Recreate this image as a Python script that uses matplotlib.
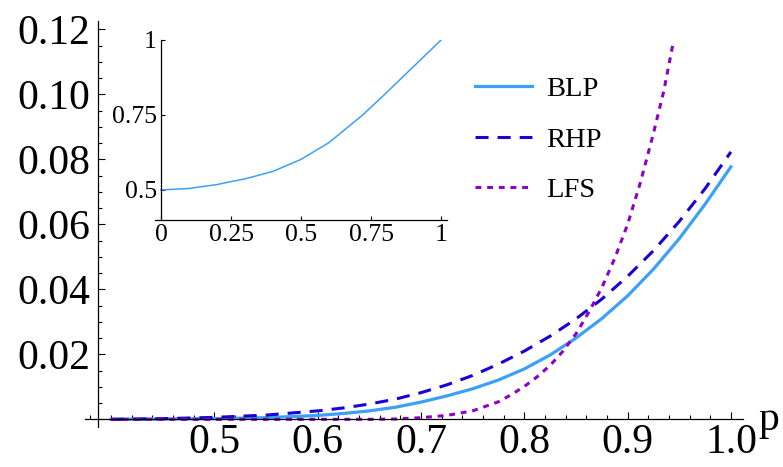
"""Tail probability curves for BLP, RHP and LFS, with an inset."""

import matplotlib
matplotlib.use("Agg")
import matplotlib.pyplot as plt
from matplotlib.ticker import FixedLocator, MultipleLocator, FormatStrFormatter

plt.rcParams["font.family"] = ["Liberation Serif", "DejaVu Serif"]
plt.rcParams["lines.scale_dashes"] = False

# Main curves
blp_p = [0.40, 0.45, 0.50, 0.55, 0.60, 0.625, 0.65, 0.675, 0.70, 0.725, 0.75,
         0.775, 0.80, 0.825, 0.85, 0.875, 0.90, 0.925, 0.95, 0.975, 1.0]
blp_val = [0.0, 0.0001, 0.0002, 0.0005, 0.0012, 0.0018, 0.0026, 0.0037, 0.0053,
           0.0072, 0.0094, 0.0121, 0.0155, 0.0198, 0.0250, 0.0310, 0.0380,
           0.0462, 0.0556, 0.0662, 0.0777]

rhp_p = [0.40, 0.45, 0.50, 0.55, 0.60, 0.625, 0.65, 0.675, 0.70, 0.725, 0.75,
         0.775, 0.80, 0.825, 0.85, 0.875, 0.90, 0.925, 0.95, 0.975, 1.0]
rhp_val = [0.0, 0.0002, 0.0006, 0.0013, 0.0026, 0.0035, 0.0047, 0.0062, 0.0082,
           0.0106, 0.0135, 0.0170, 0.0210, 0.0256, 0.0309, 0.0370, 0.0440,
           0.0519, 0.0609, 0.0710, 0.0823]

lfs_p = [0.40, 0.50, 0.60, 0.65, 0.675, 0.70, 0.725, 0.75, 0.775, 0.7875,
         0.80, 0.8125, 0.825, 0.8375, 0.85, 0.8625, 0.875, 0.8875, 0.90,
         0.9125, 0.925, 0.935, 0.944]
lfs_val = [0.0, 0.0, 0.0, 0.0, 0.0001, 0.0005, 0.0012, 0.0026, 0.0054, 0.0076,
           0.0101, 0.0131, 0.0166, 0.0210, 0.0263, 0.0330, 0.0405, 0.0495,
           0.0600, 0.0730, 0.0880, 0.1010, 0.1157]

# Inset curve
inset_x = [0.0, 0.1, 0.2, 0.25, 0.3, 0.4, 0.5, 0.6, 0.72, 0.8, 0.9, 1.0]
inset_y = [0.5, 0.505, 0.518, 0.528, 0.537, 0.562, 0.602, 0.658, 0.75, 0.82,
           0.91, 1.0]

x_ticks = [0.5, 0.6, 0.7, 0.8, 0.9, 1.0]
y_ticks = [0.02, 0.04, 0.06, 0.08, 0.10, 0.12]
inset_xticks = [0, 0.25, 0.5, 0.75, 1]
inset_xlabels = ["0", "0.25", "0.5", "0.75", "1"]
inset_yticks = [0.5, 0.75, 1]
inset_ylabels = ["0.5", "0.75", "1"]

BLP_COLOR = "#3ca0f7"
RHP_COLOR = "#1a00d8"
LFS_COLOR = "#8c00c8"


def mathematica_axes(ax, x_cross, y_cross):
    """Axes crossing at a point, ticks pointing inward, no frame."""
    for side in ("top", "right"):
        ax.spines[side].set_visible(False)
    ax.spines["left"].set_position(("data", x_cross))
    ax.spines["bottom"].set_position(("data", y_cross))
    ax.patch.set_alpha(0)


def main():
    fig = plt.figure(figsize=(7.83, 4.67), dpi=100)
    ax = fig.add_axes([0.1089, 0.0861, 0.840, 0.869])
    ax.set_xlim(0.375, 1.0117)
    ax.set_ylim(-0.0023, 0.1226)
    mathematica_axes(ax, 0.3877, 0.0)

    ax.plot(blp_p, blp_val, color=BLP_COLOR, lw=2.3, label="BLP")
    ax.plot(rhp_p, rhp_val, color=RHP_COLOR, lw=2.2, dashes=(9.4, 6.5),
            dash_capstyle="butt", label="RHP")
    ax.plot(lfs_p, lfs_val, color=LFS_COLOR, lw=2.2, dashes=(4.2, 4.2),
            dash_capstyle="butt", label="LFS")

    ax.xaxis.set_major_locator(FixedLocator(x_ticks))
    ax.xaxis.set_minor_locator(MultipleLocator(0.02))
    ax.xaxis.set_major_formatter(FormatStrFormatter("%.1f"))
    ax.yaxis.set_major_locator(FixedLocator(y_ticks))
    ax.yaxis.set_minor_locator(MultipleLocator(0.005))
    ax.yaxis.set_major_formatter(FormatStrFormatter("%.2f"))
    ax.tick_params(which="both", direction="in", width=0.8, labelsize=30)
    ax.tick_params(which="major", length=5)
    ax.tick_params(which="minor", length=2.8)
    ax.tick_params(axis="x", pad=3)
    ax.tick_params(axis="y", pad=6)
    for sp in ax.spines.values():
        sp.set_linewidth(0.9)

    ax.text(1.027, -0.0033, "p", fontsize=30, ha="left", va="baseline",
            clip_on=False)

    ax.legend(loc="upper left", bbox_to_anchor=(475 / 783, 1 - 76 / 467),
              bbox_transform=fig.transFigure, frameon=False, fontsize=20.5,
              handlelength=2.0, handletextpad=0.5, labelspacing=0.87,
              borderpad=0, borderaxespad=0)

    # Inset
    ins = fig.add_axes([0.198, 0.529, 0.3725, 0.3854])
    ins.set_xlim(-0.0214, 1.02)
    ins.set_ylim(0.4, 1.0)
    mathematica_axes(ins, 0.0, 0.4)
    ins.plot(inset_x, inset_y, color=BLP_COLOR, lw=1.1)
    ins.set_xticks(inset_xticks)
    ins.set_xticklabels(inset_xlabels)
    ins.set_yticks(inset_yticks)
    ins.set_yticklabels(inset_ylabels)
    ins.tick_params(direction="in", length=3, width=0.8, labelsize=18.5)
    ins.tick_params(axis="x", pad=3)
    ins.tick_params(axis="y", pad=3)
    for sp in ins.spines.values():
        sp.set_linewidth(0.9)

    fig.savefig("out.png", dpi=100)
    plt.close(fig)


if __name__ == "__main__":
    main()
